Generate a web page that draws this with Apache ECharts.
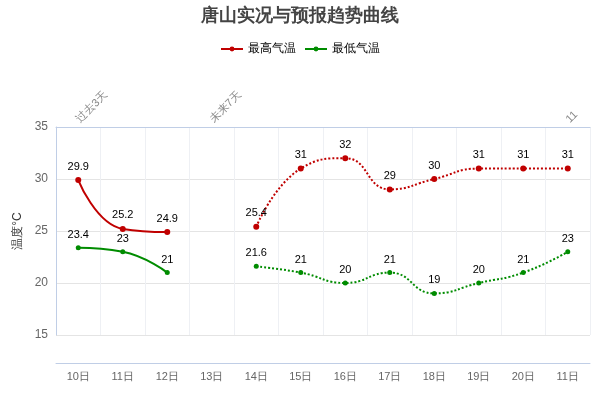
<!DOCTYPE html><html><head><meta charset="utf-8"><script src="https://cdn.jsdelivr.net/npm/echarts@6/dist/echarts.min.js"></script></head><body style="margin:0"><div id="c" style="width:600px;height:400px"></div><script>
const categories=['10日','11日','12日','13日','14日','15日','16日','17日','18日','19日','20日','11日'];
const topLabels=['过去3天','','','未来7天','','','','','','','','11'];
const maxPast=[29.9,25.2,24.9,null,null,null,null,null,null,null,null,null];
const maxFuture=[null,null,null,null,25.4,31,32,29,30,31,31,31];
const minPast=[23.4,23,21,null,null,null,null,null,null,null,null,null];
const minFuture=[null,null,null,null,21.6,21,20,21,19,20,21,23];
const red='#c00000',green='#008c00';
function s(name,data,color,type,size){return{name,type:'line',data,smooth:true,symbol:'circle',symbolSize:size,itemStyle:{color},lineStyle:{color,width:2,type},label:{show:true,position:'top',color:'#000',fontSize:11},connectNulls:false};}
const ch=echarts.init(document.getElementById('c'));
ch.setOption({
title:{text:'唐山实况与预报趋势曲线',left:'center',top:2,textStyle:{fontSize:18,fontWeight:'bold',color:'#444'}},
legend:{top:38,data:['最高气温','最低气温'],itemWidth:22,itemHeight:6,textStyle:{fontSize:12,color:'#000'}},
grid:{left:56,right:10,top:127,bottom:65},
xAxis:[{type:'category',data:categories,position:'bottom',offset:28,axisLine:{lineStyle:{color:'#c0cee6'}},axisTick:{inside:true,length:8,lineStyle:{color:'#c0cee6'}},axisLabel:{color:'#666',fontSize:11},splitLine:{show:true,lineStyle:{color:'#eef0f4'}}},
{type:'category',data:topLabels,position:'top',axisLine:{lineStyle:{color:'#c0cee6'}},axisTick:{length:10,lineStyle:{color:'#c0cee6'}},axisLabel:{rotate:-45,color:'#888',fontSize:11,interval:0,margin:6}}],
yAxis:{type:'value',min:15,max:35,interval:5,name:'温度°C',nameLocation:'middle',nameGap:26,nameTextStyle:{fontSize:12,color:'#333'},axisLine:{show:true,lineStyle:{color:'#c0cee6'}},axisLabel:{color:'#666',fontSize:12},splitLine:{lineStyle:{color:'#e4e4e4'}}},
series:[s('最高气温',maxPast,red,'solid',6),s('最高气温',maxFuture,red,'dotted',6),s('最低气温',minPast,green,'solid',5),s('最低气温',minFuture,green,'dotted',5)]
});
</script></body></html>
